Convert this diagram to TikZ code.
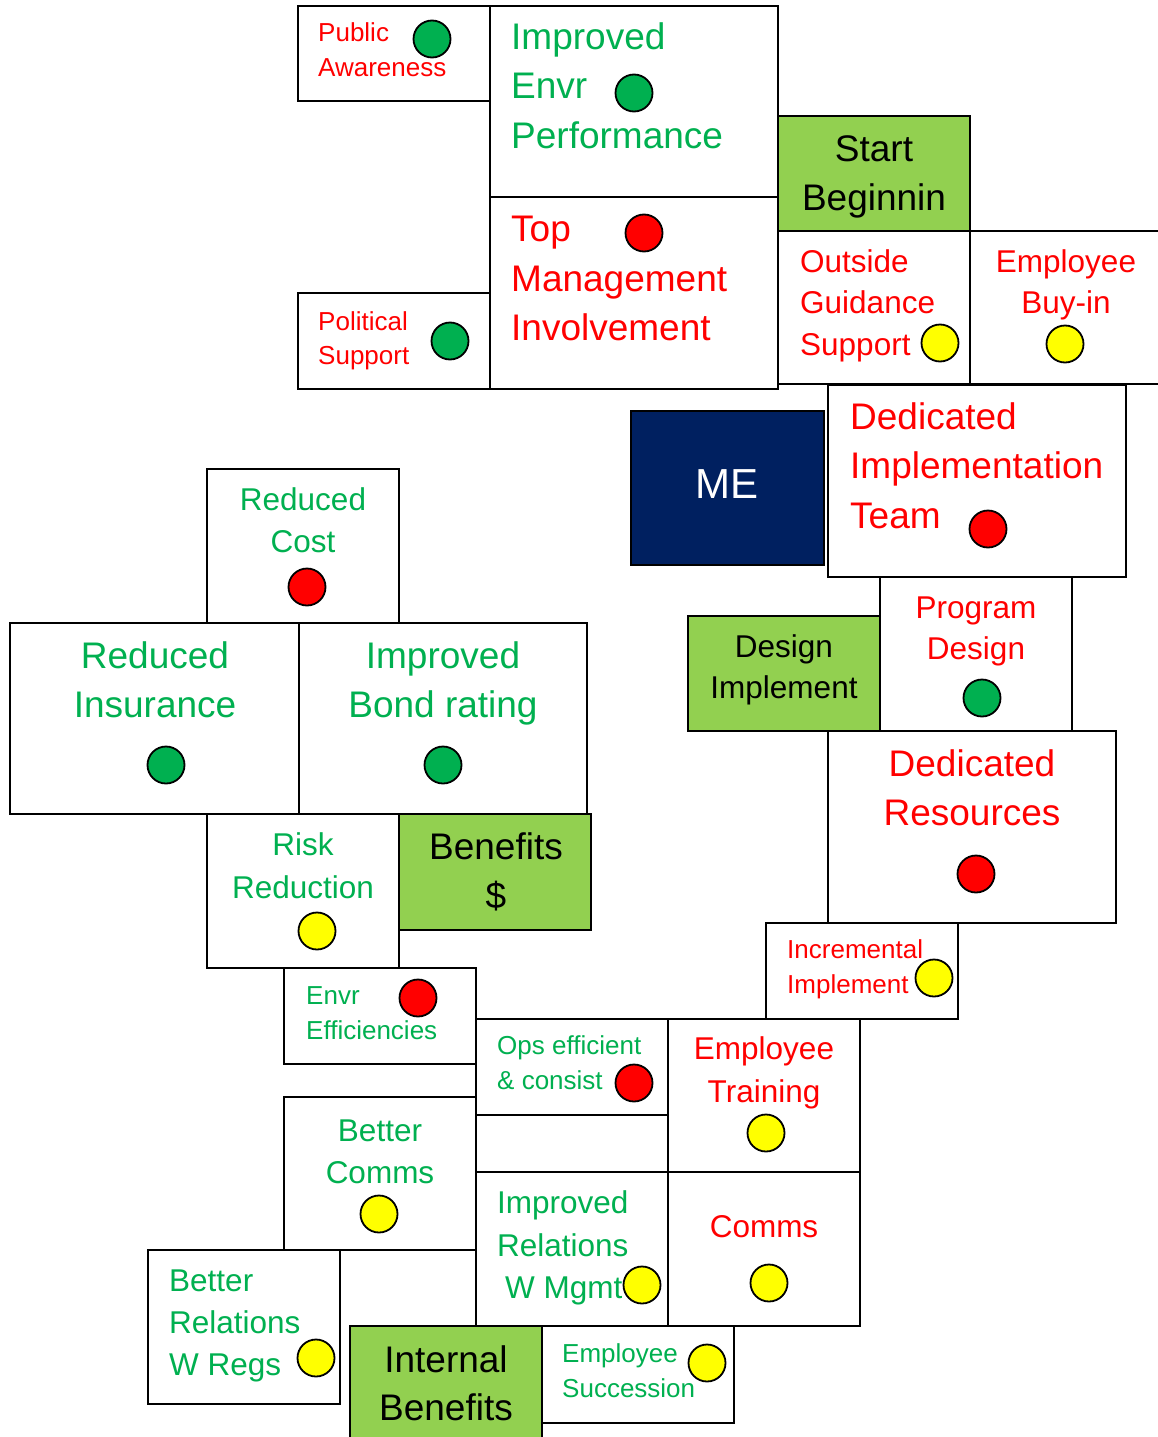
\documentclass[tikz,border=0pt]{standalone}
\usepackage{fontspec}
\setmainfont{Liberation Sans}
\definecolor{tgreen}{HTML}{00B050}
\definecolor{tred}{HTML}{FF0000}
\definecolor{dyellow}{HTML}{FFFF00}
\definecolor{bgreen}{HTML}{92D050}
\definecolor{navy}{HTML}{002060}
\newcommand\fsS{\fontsize{26}{30}\selectfont}
\newcommand\fsM{\fontsize{31.5}{36}\selectfont}
\newcommand\fsL{\fontsize{37}{42}\selectfont}
\tikzset{
  cell/.style={draw=black, line width=2pt, fill=white, anchor=north west, inner sep=0pt, outer sep=0pt},
  gcell/.style={cell, fill=bgreen},
  ncell/.style={cell, fill=navy},
  dot/.style={circle, draw=black, line width=1.8pt, minimum size=37pt, inner sep=0pt},
  gdot/.style={dot, fill=tgreen},
  rdot/.style={dot, fill=tred},
  ydot/.style={dot, fill=dyellow},
  tl/.style={inner sep=0pt, anchor=base west},
  tc/.style={inner sep=0pt, anchor=base},
  gS/.style={tgreen, font=\fsS}, rS/.style={tred, font=\fsS},
  gM/.style={tgreen, font=\fsM}, rM/.style={tred, font=\fsM}, kM/.style={black, font=\fsM},
  gL/.style={tgreen, font=\fsL}, rL/.style={tred, font=\fsL}, kL/.style={black, font=\fsL}
}
\begin{document}
\begin{tikzpicture}[x=1pt, y=-1pt]
\useasboundingbox (0,0) rectangle (1157,1437);
\fill[white] (0,0) rectangle (1157,1437);

% ---- cells ----
\node[cell, minimum width=192pt, minimum height=95pt] (pa) at (298,6) {};
\node[cell, minimum width=288pt, minimum height=191pt] (iep) at (490,6) {};
\node[cell, minimum width=288pt, minimum height=192pt] (tmi) at (490,197) {};
\node[cell, minimum width=192pt, minimum height=96pt] (ps) at (298,293) {};
\node[gcell, minimum width=192pt, minimum height=115pt] (start) at (778,116) {};
\node[cell, minimum width=192pt, minimum height=153pt] (ogs) at (778,231) {};
\node[cell, minimum width=200pt, minimum height=153pt] (ebi) at (970,231) {};
\node[ncell, minimum width=193pt, minimum height=154pt] (me) at (631,411) {};
\node[cell, minimum width=298pt, minimum height=192pt] (dit) at (828,385) {};
\node[cell, minimum width=192pt, minimum height=154pt] (rc) at (207,469) {};
\node[cell, minimum width=289pt, minimum height=191pt] (ri) at (10,623) {};
\node[cell, minimum width=288pt, minimum height=191pt] (ibr) at (299,623) {};
\node[cell, minimum width=192pt, minimum height=154pt] (rr) at (207,814) {};
\node[gcell, minimum width=192pt, minimum height=116pt] (ben) at (399,814) {};
\node[cell, minimum width=192pt, minimum height=154pt] (pd) at (880,577) {};
\node[gcell, minimum width=192pt, minimum height=115pt] (di) at (688,616) {};
\node[cell, minimum width=288pt, minimum height=192pt] (dr) at (828,731) {};
\node[cell, minimum width=192pt, minimum height=96pt] (ii) at (766,923) {};
\node[cell, minimum width=192pt, minimum height=96pt] (ee) at (284,968) {};
\node[cell, minimum width=192pt, minimum height=96pt] (ops) at (476,1019) {};
\node[cell, minimum width=192pt, minimum height=57pt] (gap) at (476,1115) {};
\node[cell, minimum width=192pt, minimum height=153pt] (et) at (668,1019) {};
\node[cell, minimum width=192pt, minimum height=153pt] (bc) at (284,1097) {};
\node[cell, minimum width=192pt, minimum height=154pt] (irm) at (476,1172) {};
\node[cell, minimum width=192pt, minimum height=154pt] (cm) at (668,1172) {};
\node[cell, minimum width=192pt, minimum height=154pt] (brr) at (148,1250) {};
\node[gcell, minimum width=192pt, minimum height=125pt] (ib) at (350,1326) {};
\node[cell, minimum width=192pt, minimum height=97pt] (es) at (542,1326) {};

% ---- labels ----
\node[tl, rS] (pa1) at (318,42) {Public};
\node[tl, rS] (pa2) at (318,76) {Awareness};
\node[tl, gL] (iep1) at (511,50) {Improved};
\node[tl, gL] (iep2) at (511,99) {Envr};
\node[tl, gL] (iep3) at (511,148) {Performance};
\node[tc, kL] (st1) at (874,161) {Start};
\node[tc, kL] (st2) at (874,210) {Beginnin};
\node[tl, rL] (tmi1) at (511,241) {Top};
\node[tl, rL] (tmi2) at (511,291) {Management};
\node[tl, rL] (tmi3) at (511,340) {Involvement};
\node[tl, rS] (ps1) at (318,330) {Political};
\node[tl, rS] (ps2) at (318,364) {Support};
\node[tl, rM] (ogs1) at (800,272) {Outside};
\node[tl, rM] (ogs2) at (800,313) {Guidance};
\node[tl, rM] (ogs3) at (800,355) {Support};
\node[tc, rM] (ebi1) at (1066,272) {Employee};
\node[tc, rM] (ebi2) at (1066,313) {Buy-in};
\node[tc, white, font=\fontsize{42}{48}\selectfont] (me1) at (727,498) {ME};
\node[tl, rL] (dit1) at (850,429) {Dedicated};
\node[tl, rL] (dit2) at (850,478) {Implementation};
\node[tl, rL] (dit3) at (850,528) {Team};
\node[tc, gM] (rc1) at (303,510) {Reduced};
\node[tc, gM] (rc2) at (303,552) {Cost};
\node[tc, gL] (ri1) at (155,668) {Reduced};
\node[tc, gL] (ri2) at (155,717) {Insurance};
\node[tc, gL] (ibr1) at (443,668) {Improved};
\node[tc, gL] (ibr2) at (443,717) {Bond rating};
\node[tc, gM] (rr1) at (303,855) {Risk};
\node[tc, gM] (rr2) at (303,898) {Reduction};
\node[tc, kL] (ben1) at (496,859) {Benefits};
\node[tc, kL] (ben2) at (496,908) {\$};
\node[tc, kM] (di1) at (784,657) {Design};
\node[tc, kM] (di2) at (784,698) {Implement};
\node[tc, rM] (pd1) at (976,618) {Program};
\node[tc, rM] (pd2) at (976,659) {Design};
\node[tc, rL] (dr1) at (972,776) {Dedicated};
\node[tc, rL] (dr2) at (972,825) {Resources};
\node[tl, rS] (ii1) at (787,958) {Incremental};
\node[tl, rS] (ii2) at (787,993) {Implement};
\node[tl, gS] (ee1) at (306,1004) {Envr};
\node[tl, gS] (ee2) at (306,1039) {Efficiencies};
\node[tl, gS] (ops1) at (497,1054) {Ops efficient};
\node[tl, gS] (ops2) at (497,1089) {\& consist};
\node[tc, rM] (et1) at (764,1059) {Employee};
\node[tc, rM] (et2) at (764,1102) {Training};
\node[tc, gM] (bc1) at (380,1141) {Better};
\node[tc, gM] (bc2) at (380,1183) {Comms};
\node[tl, gM] (irm1) at (497,1213) {Improved};
\node[tl, gM] (irm2) at (497,1256) {Relations};
\node[tl, gM] (irm3) at (505,1298) {W Mgmt};
\node[tc, rM] (cm1) at (764,1237) {Comms};
\node[tl, gM] (brr1) at (169,1291) {Better};
\node[tl, gM] (brr2) at (169,1333) {Relations};
\node[tl, gM] (brr3) at (169,1375) {W Regs};
\node[tc, kL] (ib1) at (446,1372) {Internal};
\node[tc, kL] (ib2) at (446,1420) {Benefits};
\node[tl, gS] (es1) at (562,1362) {Employee};
\node[tl, gS] (es2) at (562,1397) {Succession};

% ---- status dots ----
\node[gdot] (pad) at (432,39) {};
\node[gdot] (iepd) at (634,93) {};
\node[rdot] (tmid) at (644,233) {};
\node[gdot] (psd) at (450,341) {};
\node[ydot] (ogsd) at (940,343) {};
\node[ydot] (ebid) at (1065,344) {};
\node[rdot] (ditd) at (988,529) {};
\node[rdot] (rcd) at (307,587) {};
\node[gdot] (rid) at (166,765) {};
\node[gdot] (ibrd) at (443,765) {};
\node[ydot] (rrd) at (317,931) {};
\node[gdot] (pdd) at (982,698) {};
\node[rdot] (drd) at (976,874) {};
\node[ydot] (iid) at (934,978) {};
\node[rdot] (eed) at (418,998) {};
\node[rdot] (opsd) at (634,1083) {};
\node[ydot] (etd) at (766,1133) {};
\node[ydot] (bcd) at (379,1214) {};
\node[ydot] (irmd) at (642,1285) {};
\node[ydot] (cmd) at (769,1283) {};
\node[ydot] (brrd) at (316,1358) {};
\node[ydot] (esd) at (707,1363) {};
\end{tikzpicture}
\end{document}
